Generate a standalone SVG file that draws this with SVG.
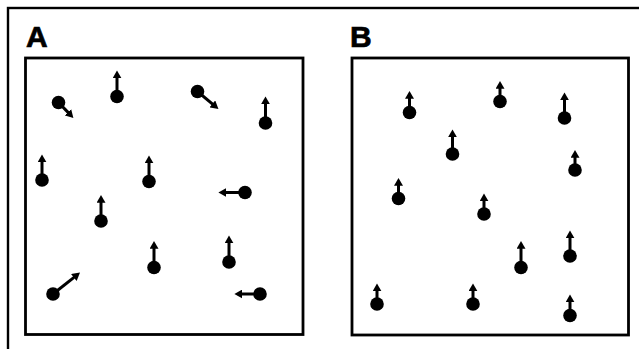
<svg xmlns="http://www.w3.org/2000/svg" width="639" height="349" viewBox="0 0 639 349">
<defs>
<marker id="ah" markerUnits="userSpaceOnUse" markerWidth="9" markerHeight="9" viewBox="0 0 8 8" refX="2" refY="4" orient="auto">
<path d="M0,0 L7,4 L0,8 z" fill="#000"/>
</marker>
</defs>
<style>
.frame{fill:none;stroke:#000;stroke-width:2.4}
.box{fill:#fff;stroke:#000;stroke-width:2.8}
.lbl{font-family:"Liberation Sans",Arial,sans-serif;font-weight:bold;font-size:30px;fill:#000;stroke:#000;stroke-width:0.7}
.dot{fill:#000}
.arr{stroke:#000;stroke-width:3;fill:none;marker-end:url(#ah)}
</style>
<rect width="639" height="349" fill="#fff"/>
<rect class="frame" x="8" y="8" width="700" height="400"/>
<g id="panelA">
<rect class="box" x="25.5" y="58" width="277.5" height="276.5"/>
<text class="lbl" x="26" y="47">A</text>
</g>
<g id="panelB">
<rect class="box" x="352" y="58" width="276.5" height="277"/>
<text class="lbl" x="350" y="47">B</text>
</g>
<g id="connectors">
<line class="arr" x1="58.5" y1="102.5" x2="69.5" y2="113.9"/>
<line class="arr" x1="117" y1="96.5" x2="117" y2="76"/>
<line class="arr" x1="197.5" y1="91.5" x2="214.1" y2="105.3"/>
<line class="arr" x1="265.5" y1="123" x2="265.5" y2="102"/>
<line class="arr" x1="42" y1="180" x2="42" y2="160"/>
<line class="arr" x1="149" y1="181.5" x2="149" y2="161"/>
<line class="arr" x1="245" y1="192.5" x2="224" y2="192.5"/>
<line class="arr" x1="101" y1="221" x2="101" y2="200.5"/>
<line class="arr" x1="154" y1="267.5" x2="154" y2="246.5"/>
<line class="arr" x1="229" y1="262" x2="229" y2="241"/>
<line class="arr" x1="53" y1="294" x2="75.6" y2="276.1"/>
<line class="arr" x1="260" y1="294" x2="240" y2="294"/>
<line class="arr" x1="409.5" y1="112.5" x2="409.5" y2="96.5"/>
<line class="arr" x1="500" y1="101.5" x2="500" y2="86.5"/>
<line class="arr" x1="564.5" y1="118" x2="564.5" y2="98"/>
<line class="arr" x1="452.5" y1="154" x2="452.5" y2="135"/>
<line class="arr" x1="575" y1="170" x2="575" y2="155.5"/>
<line class="arr" x1="398.5" y1="198.5" x2="398.5" y2="183.5"/>
<line class="arr" x1="484" y1="214" x2="484" y2="199"/>
<line class="arr" x1="521" y1="267.5" x2="521" y2="246.5"/>
<line class="arr" x1="570" y1="256" x2="570" y2="236"/>
<line class="arr" x1="377" y1="304" x2="377" y2="289"/>
<line class="arr" x1="473" y1="304" x2="473" y2="289"/>
<line class="arr" x1="570" y1="315.5" x2="570" y2="300"/>
</g>
<g id="particlesA">
<circle id="a1" class="dot" cx="58.5" cy="102.5" r="6.8"/>
<circle id="a2" class="dot" cx="117" cy="96.5" r="6.8"/>
<circle id="a3" class="dot" cx="197.5" cy="91.5" r="6.8"/>
<circle id="a4" class="dot" cx="265.5" cy="123" r="6.8"/>
<circle id="a5" class="dot" cx="42" cy="180" r="6.8"/>
<circle id="a6" class="dot" cx="149" cy="181.5" r="6.8"/>
<circle id="a7" class="dot" cx="245" cy="192.5" r="6.8"/>
<circle id="a8" class="dot" cx="101" cy="221" r="6.8"/>
<circle id="a9" class="dot" cx="154" cy="267.5" r="6.8"/>
<circle id="a10" class="dot" cx="229" cy="262" r="6.8"/>
<circle id="a11" class="dot" cx="53" cy="294" r="6.8"/>
<circle id="a12" class="dot" cx="260" cy="294" r="6.8"/>
</g>
<g id="particlesB">
<circle id="b1" class="dot" cx="409.5" cy="112.5" r="6.8"/>
<circle id="b2" class="dot" cx="500" cy="101.5" r="6.8"/>
<circle id="b3" class="dot" cx="564.5" cy="118" r="6.8"/>
<circle id="b4" class="dot" cx="452.5" cy="154" r="6.8"/>
<circle id="b5" class="dot" cx="575" cy="170" r="6.8"/>
<circle id="b6" class="dot" cx="398.5" cy="198.5" r="6.8"/>
<circle id="b7" class="dot" cx="484" cy="214" r="6.8"/>
<circle id="b8" class="dot" cx="521" cy="267.5" r="6.8"/>
<circle id="b9" class="dot" cx="570" cy="256" r="6.8"/>
<circle id="b10" class="dot" cx="377" cy="304" r="6.8"/>
<circle id="b11" class="dot" cx="473" cy="304" r="6.8"/>
<circle id="b12" class="dot" cx="570" cy="315.5" r="6.8"/>
</g>
</svg>
